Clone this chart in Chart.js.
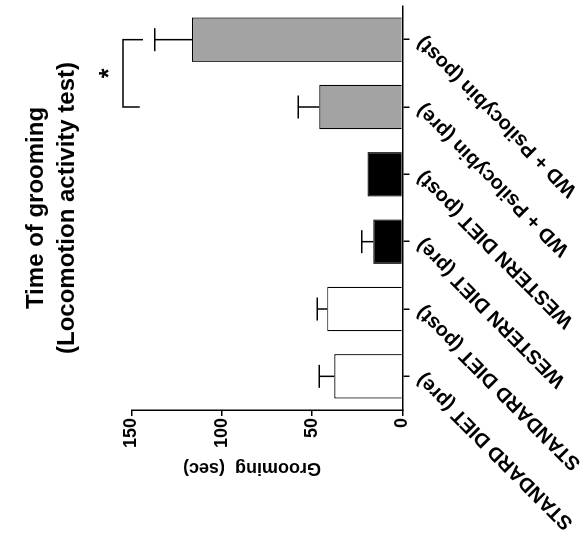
<!DOCTYPE html>
<html><head><meta charset="utf-8">
<script src="https://cdn.jsdelivr.net/npm/chart.js@4.4.0/dist/chart.umd.min.js"></script>
<style>
html,body{margin:0;padding:0;background:#fff;overflow:hidden;width:587px;height:544px;}
#wrap{position:absolute;left:0;top:0;width:544px;height:587px;transform-origin:0 0;transform:translateY(544px) rotate(-90deg);}
</style></head><body>
<div id="wrap"><canvas id="c" width="544" height="587"></canvas></div>
<script>
// ---- data ----
const categories = ['STANDARD DIET (pre)', 'STANDARD DIET (post)', 'WESTERN DIET (pre)', 'WESTERN DIET (post)', 'WD + Psilocybin (pre)', 'WD + Psilocybin (post)'];
const groomingMeans = [37.8, 41.7, 16.2, 19.3, 46.1, 116.5];
const groomingErrors = [8.3, 5.5, 6.4, 0, 11.6, 20.6];
const yTicks = [0, 50, 100, 150];
const bracketPair = [4, 5];
const bracketTop = 154.7;
const bracketArmEnds = [145.4, 143.6];
const asteriskValue = 162;
const titleLines = ['Time of grooming', '(Locomotion activity test)'];
const yTitle = '      Grooming  (sec)';

// ---- styles ----
const F = '"Liberation Sans", Arial, Helvetica, sans-serif';
const barFills = ['#ffffff', '#ffffff', '#000000', '#000000', '#a3a3a3', '#a3a3a3'];

const annot = {
  id: 'annot',
  afterDatasetsDraw(chart) {
    const ctx = chart.ctx, xs = chart.scales.x, ys = chart.scales.y;
    const meta = chart.getDatasetMeta(0);
    ctx.save();
    ctx.strokeStyle = '#000'; ctx.lineWidth = 1.5;
    meta.data.forEach((bar, i) => {
      const e = groomingErrors[i];
      if (!e) return;
      const x = bar.x;
      const y0 = ys.getPixelForValue(groomingMeans[i]);
      const y1 = ys.getPixelForValue(groomingMeans[i] + e);
      ctx.beginPath();
      ctx.moveTo(x, y0); ctx.lineTo(x, y1);
      ctx.moveTo(x - 11.5, y1); ctx.lineTo(x + 11.5, y1);
      ctx.stroke();
    });
    const xa = xs.getPixelForValue(bracketPair[0]);
    const xb = xs.getPixelForValue(bracketPair[1]);
    const yt = ys.getPixelForValue(bracketTop);
    ctx.beginPath();
    ctx.moveTo(xa, ys.getPixelForValue(bracketArmEnds[0]));
    ctx.lineTo(xa, yt); ctx.lineTo(xb, yt);
    ctx.lineTo(xb, ys.getPixelForValue(bracketArmEnds[1]));
    ctx.stroke();
    ctx.font = 'bold 25px ' + F;
    ctx.fillStyle = '#000'; ctx.textAlign = 'center'; ctx.textBaseline = 'middle';
    ctx.fillText('*', (xa + xb) / 2, ys.getPixelForValue(asteriskValue));
    ctx.restore();
  }
};

new Chart(document.getElementById('c'), {
  type: 'bar',
  data: {
    labels: categories,
    datasets: [{
      data: groomingMeans,
      backgroundColor: barFills,
      borderColor: '#000',
      borderWidth: 1.2,
      categoryPercentage: 1,
      barPercentage: 0.66
    }]
  },
  options: {
    responsive: false, animation: false, devicePixelRatio: 1,
    layout: { padding: { left: 0, right: 6, top: 0, bottom: 0 } },
    plugins: {
      legend: { display: false }, tooltip: { enabled: false },
      title: {
        display: true, fullSize: false, text: titleLines, color: '#000',
        font: { family: F, size: 24, weight: 'bold', lineHeight: 1.3 },
        padding: { top: 21, bottom: 48 }
      }
    },
    scales: {
      x: {
        offset: true,
        grid: { display: true, offset: false, drawOnChartArea: false, drawTicks: true, tickLength: 7, color: '#000', lineWidth: 1.5 },
        border: { display: true, color: '#000', width: 1.5 },
        ticks: { autoSkip: false, maxRotation: 45, minRotation: 45, color: '#000', font: { family: F, size: 20, weight: 'bold' }, padding: 2 },
        afterFit(s) { s.height = 184.5; }
      },
      y: {
        min: 0, max: 150,
        grid: { drawOnChartArea: false, tickLength: 6, color: '#000', lineWidth: 1.5 },
        border: { color: '#000', width: 1.5 },
        ticks: { color: '#000', font: { family: F, size: 18, weight: 'bold' }, padding: 2, stepSize: 50 },
        afterBuildTicks(s) { s.ticks = yTicks.map(v => ({ value: v })); },
        title: { display: true, text: yTitle, color: '#000', font: { family: F, size: 18, weight: 'bold' }, padding: { top: 65, bottom: 0 } },
        afterFit(s) { s.width = 134; }
      }
    }
  },
  plugins: [annot]
});
</script>
</body></html>
